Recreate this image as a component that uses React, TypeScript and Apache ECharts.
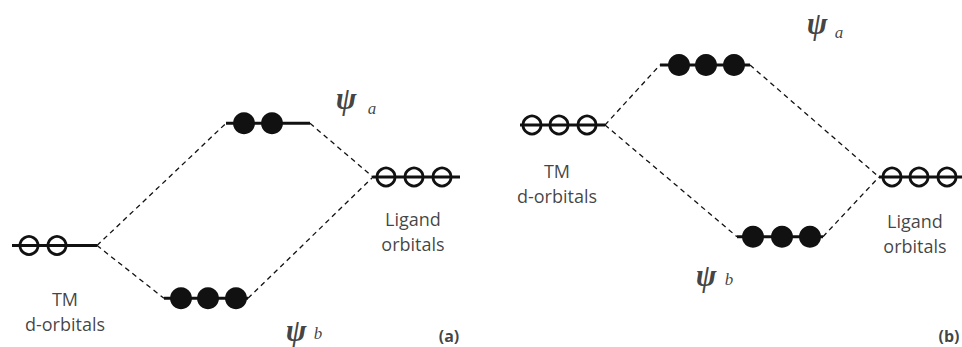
import React, { useEffect, useRef } from "react";
import * as echarts from "echarts";

const W = 962;
const H = 347;

// Energy levels of both panels (a: indices 0-3, b: indices 4-7), pixel-like energy scale (downward)
const levelStart = [12, 226, 164, 373, 520, 660, 737, 879];
const levelEnd = [97, 310, 248, 460, 605, 750, 823, 962];
const levelEnergy = [245.5, 123.3, 298.3, 177, 125, 65, 236.7, 177];
const orbitalPos = [
  [29, 57],
  [244, 272],
  [181, 208, 236],
  [386, 414, 442],
  [532, 559, 587],
  [679, 706, 734],
  [753, 782, 810],
  [892, 919, 947],
];
const orbitalFilled = [false, true, true, false, false, true, true, false];

// Dashed correlation lines: right end of "from" level to left end of "to" level
const connFrom = [0, 0, 1, 2, 4, 4, 5, 6];
const connTo = [1, 2, 3, 3, 5, 6, 7, 7];

const captionText = ["TM\nd-orbitals", "Ligand\norbitals", "TM\nd-orbitals", "Ligand\norbitals"];
const captionX = [65, 413, 557, 915];
const captionY = [311, 231.5, 183.6, 233];

const psiSub = ["a", "b", "a", "b"];
const psiX = [346, 296, 817, 706];
const psiY = [98, 330, 23, 275];
const subX = [372, 318, 839, 729];
const subY = [108, 333, 32, 279];

const panelTag = ["(a)", "(b)"];
const panelX = [449, 949];
const panelY = [336, 336];

const INK = "#111";
const TEXT = "#111";

function textSeries(name: string, pts: { value: number[]; name: string }[], label: any) {
  return {
    type: "scatter",
    name,
    silent: true,
    symbolSize: 1,
    itemStyle: { color: "transparent" },
    data: pts,
    z: 10,
    label: {
      show: true,
      position: "inside",
      formatter: "{b}",
      align: "center",
      verticalAlign: "middle",
      color: TEXT,
      ...label,
    },
  };
}

export default function App() {
  const ref = useRef<HTMLDivElement>(null);

  useEffect(() => {
    if (!ref.current) return;
    const chart = echarts.init(ref.current, undefined, { renderer: "svg" });

    const series: any[] = [];

    levelEnergy.forEach((e, i) => {
      series.push({
        type: "line",
        silent: true,
        showSymbol: false,
        symbol: "none",
        z: 2,
        lineStyle: { color: INK, width: 3 },
        data: [
          [levelStart[i], e],
          [levelEnd[i], e],
        ],
      });
    });

    connFrom.forEach((f, k) => {
      const t = connTo[k];
      series.push({
        type: "line",
        silent: true,
        showSymbol: false,
        symbol: "none",
        z: 1,
        lineStyle: { color: INK, width: 1.3, type: [5, 4] },
        data: [
          [levelEnd[f], levelEnergy[f]],
          [levelStart[t], levelEnergy[t]],
        ],
      });
    });

    const filledPts: number[][] = [];
    const openPts: number[][] = [];
    orbitalPos.forEach((xs, i) => {
      xs.forEach((x) => {
        (orbitalFilled[i] ? filledPts : openPts).push([x, levelEnergy[i]]);
      });
    });

    series.push({
      type: "scatter",
      silent: true,
      symbol: "circle",
      symbolSize: 22,
      z: 5,
      itemStyle: { color: INK, opacity: 1 },
      data: filledPts,
    });
    series.push({
      type: "scatter",
      silent: true,
      symbol: "circle",
      symbolSize: 18,
      z: 5,
      itemStyle: { color: "transparent", borderColor: INK, borderWidth: 2.8, opacity: 1 },
      data: openPts,
    });

    series.push(
      textSeries(
        "captions",
        captionText.map((t, i) => ({ value: [captionX[i], captionY[i]], name: t })),
        { fontFamily: "Open Sans", fontSize: 18, lineHeight: 25 }
      )
    );
    series.push(
      textSeries(
        "psi",
        psiX.map((x, i) => ({ value: [x, psiY[i]], name: "ψ" })),
        {
          fontFamily: "Liberation Serif",
          fontStyle: "italic",
          fontWeight: "bold",
          fontSize: 31,
          color: INK,
        }
      )
    );
    series.push(
      textSeries(
        "psiSub",
        subX.map((x, i) => ({ value: [x, subY[i]], name: psiSub[i] })),
        {
          fontFamily: "Liberation Serif",
          fontStyle: "italic",
          fontSize: 17,
          color: INK,
        }
      )
    );
    series.push(
      textSeries(
        "tags",
        panelX.map((x, i) => ({ value: [x, panelY[i]], name: panelTag[i] })),
        { fontFamily: "Open Sans", fontWeight: "bold", fontSize: 16, lineHeight: 18 }
      )
    );

    chart.setOption({
      animation: false,
      backgroundColor: "#ffffff",
      grid: { left: 0, right: 0, top: 0, bottom: 0, containLabel: false },
      xAxis: { type: "value", min: 0, max: W, show: false },
      yAxis: { type: "value", min: 0, max: H, inverse: true, show: false },
      series,
    });

    return () => chart.dispose();
  }, []);

  return (
    <div
      ref={ref}
      style={{ position: "absolute", left: 0, top: 0, width: W, height: H, background: "#fff" }}
    />
  );
}
